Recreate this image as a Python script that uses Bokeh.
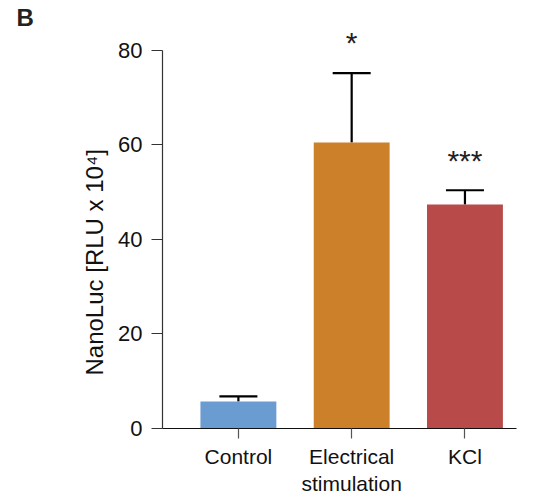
from bokeh.plotting import figure
from bokeh.models import (ColumnDataSource, Range1d, FixedTicker, Whisker, TeeHead,
                          Title, LinearAxis)
from bokeh.core.properties import value
from bokeh.embed import file_html
from bokeh.resources import INLINE

categories = ["Control", "Electrical\nstimulation", "KCl"]
means = [5.7, 60.5, 47.4]
errors = [1.1, 14.7, 3.0]
stars = ["", "*", "***"]
colors = ["#6A9BD1", "#CC8029", "#B84A4A"]
yticks = [0, 20, 40, 60, 80]

xs = list(range(len(categories)))
upper = [m + e for m, e in zip(means, errors)]
star_y = [u + 6.4 for u in upper]

src = ColumnDataSource(dict(x=xs, top=means, upper=upper, color=colors,
                            star=stars, star_y=star_y))

FONT = "Liberation Sans"

p = figure(width=547, height=500, output_backend="svg", toolbar_location=None,
           x_range=Range1d(-0.67, 2.455), y_range=Range1d(0, 84.2),
           min_border_left=162, min_border_right=31, min_border_top=30,
           min_border_bottom=72, y_axis_location=None, x_axis_location=None,
           title=None)
p.outline_line_color = None
p.xgrid.visible = False
p.ygrid.visible = False
p.background_fill_color = "white"
p.border_fill_color = "white"

p.vbar(x="x", top="top", width=0.67, bottom=0, color="color", line_color=None, source=src)

w = Whisker(base="x", lower="top", upper="upper", source=src, dimension="height",
            line_color="black", line_width=2.2, lower_head=None,
            upper_head=TeeHead(size=38, line_color="black", line_width=2.2))
p.add_layout(w)

p.text(x="x", y="star_y", text="star", source=src, text_align="center",
       text_baseline="alphabetic", text_font=value(FONT), text_font_size="30px",
       text_color="#222222")

yaxis = LinearAxis(ticker=FixedTicker(ticks=yticks), bounds=(0, 80))
yaxis.axis_line_color = "#333333"
yaxis.axis_line_width = 1.2
yaxis.major_tick_line_color = "#333333"
yaxis.major_tick_line_width = 1.2
yaxis.major_tick_out = 11
yaxis.major_tick_in = 0
yaxis.minor_tick_line_color = None
yaxis.major_label_standoff = 9
yaxis.major_label_text_font = FONT
yaxis.major_label_text_font_size = "22px"
yaxis.major_label_text_color = "#111111"
p.add_layout(yaxis, "left")

xaxis = LinearAxis(ticker=FixedTicker(ticks=xs),
                   major_label_overrides={i: c for i, c in enumerate(categories)})
xaxis.axis_line_color = "#111111"
xaxis.axis_line_width = 1.2
xaxis.major_tick_line_color = "#555555"
xaxis.major_tick_line_width = 1.2
xaxis.major_tick_out = 10
xaxis.major_tick_in = 0
xaxis.minor_tick_line_color = None
xaxis.major_label_standoff = 6
xaxis.major_label_text_font = FONT
xaxis.major_label_text_font_size = "21px"
xaxis.major_label_text_color = "#111111"
p.add_layout(xaxis, "below")

ytitle = Title(text="NanoLuc [RLU x 10⁴]", align="left", offset=53, standoff=15,
               text_font=FONT, text_font_size="24px", text_font_style="normal",
               text_color="#111111")
p.add_layout(ytitle, "left")

btitle = Title(text="B", align="left", offset=-146, standoff=0,
               text_font=FONT, text_font_size="24px", text_font_style="bold",
               text_color="#222222")
p.add_layout(btitle, "above")

open("out.html", "w").write(file_html(p, INLINE))
